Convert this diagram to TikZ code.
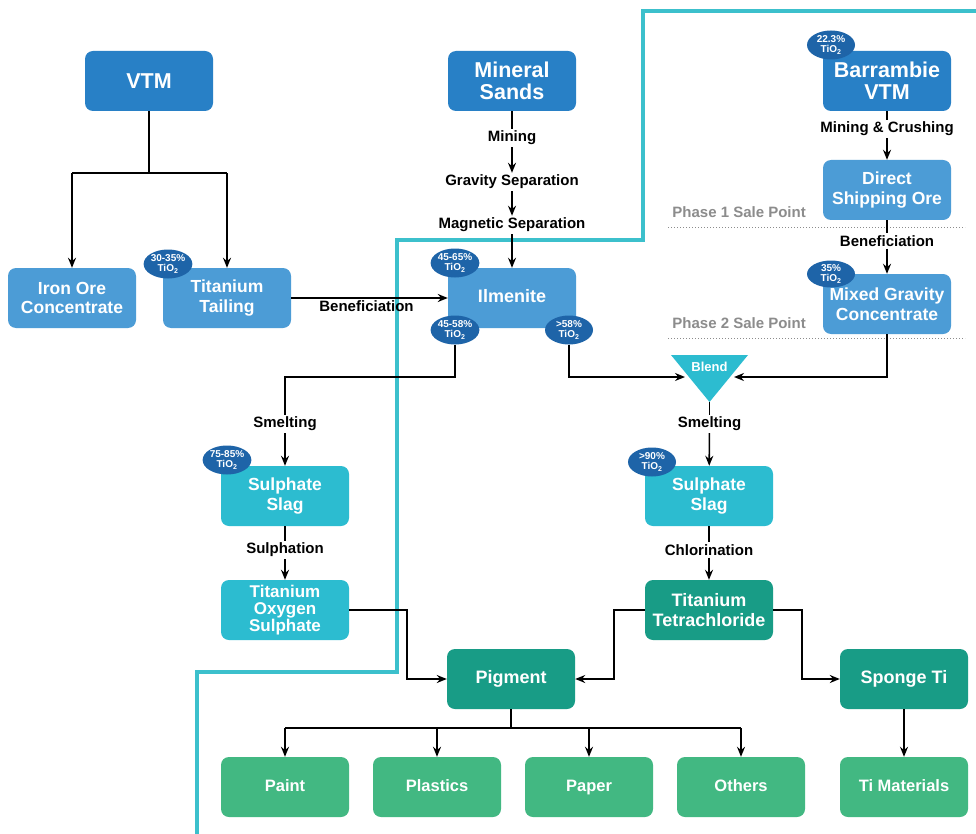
\documentclass[tikz,border=0pt]{standalone}
\usepackage{fontspec}
\setmainfont{Liberation Sans}
\usetikzlibrary{arrows.meta,calc,shapes.geometric}
\definecolor{dblue}{RGB}{40,128,198}
\definecolor{mblue}{RGB}{76,156,214}
\definecolor{navy}{RGB}{30,100,168}
\definecolor{cyanb}{RGB}{44,188,208}
\definecolor{tealb}{RGB}{24,156,134}
\definecolor{greenb}{RGB}{66,184,130}
\definecolor{border}{RGB}{60,192,204}
\definecolor{phase}{RGB}{140,140,140}
\tikzset{
  box/.style={rounded corners=8pt, minimum width=128pt, minimum height=60pt, text=white, align=center, inner sep=1pt, font=\bfseries\fontsize{17.5}{19.5}\selectfont},
  bigbox/.style={box, fill=dblue, font=\bfseries\fontsize{21.5}{22}\selectfont},
  midbox/.style={box, fill=mblue},
  cyanbox/.style={box, fill=cyanb},
  tealbox/.style={box, fill=tealb, font=\bfseries\fontsize{18}{19.5}\selectfont},
  onerow/.style={text height=13pt, text depth=4pt},
  greenbox/.style={box, onerow, fill=greenb, font=\bfseries\fontsize{16.5}{18}\selectfont},
  badge/.style={ellipse, fill=navy, text=white, minimum width=48pt, minimum height=29pt, inner sep=0pt, align=center, font=\bfseries\fontsize{10}{10.5}\selectfont},
  lbl/.style={font=\bfseries\fontsize{15}{16}\selectfont, inner sep=2pt},
  phaselbl/.style={font=\bfseries\fontsize{15}{16}\selectfont, text=phase, anchor=east, inner sep=0pt},
  ln/.style={line width=1.6pt, black},
  arr/.style={ln, -{Stealth[length=10pt,width=8pt]}},
}
\begin{document}
\begin{tikzpicture}[x=1pt,y=-1pt]
\useasboundingbox (0,0) rectangle (976,834);
\fill[white] (0,0) rectangle (976,834);
% border
\draw[border, line width=4pt] (976,11) -- (643,11) -- (643,240) -- (397,240) -- (397,672) -- (197,672) -- (197,834);
% dotted sale lines
\draw[phase, line width=1pt, dotted] (668,228) -- (965,228);
\draw[phase, line width=1pt, dotted] (668,338) -- (965,338);

% top row
\node[bigbox] (vtm) at (149,81) {VTM};
\node[bigbox] (ms) at (512,81) {Mineral\\Sands};
\node[bigbox] (bv) at (887,81) {Barrambie\\VTM};
\node[badge] (b223) at (831,45) {22.3\%\\TiO\textsubscript{2}};

% Mineral sands chain
\node[lbl] (mining) at (512,138) {Mining};
\node[lbl] (grav) at (512,182) {Gravity Separation};
\node[lbl] (mag) at (512,225) {Magnetic Separation};

% Barrambie chain
\node[lbl] (mc) at (887,129) {Mining \& Crushing};
\node[midbox] (dso) at (887,190) {Direct\\Shipping Ore};
\node[phaselbl] (p1) at (806,212) {Phase 1 Sale Point};
\node[lbl] (ben2) at (887,241) {Beneficiation};
\node[midbox] (mgc) at (887,304) {Mixed Gravity\\Concentrate};
\node[badge, minimum height=27pt] (b35) at (831,274) {35\%\\TiO\textsubscript{2}};
\node[phaselbl] (p2) at (806,323) {Phase 2 Sale Point};

% second row
\node[midbox] (iron) at (72,298) {Iron Ore\\Concentrate};
\node[midbox] (tail) at (227,298) {Titanium\\Tailing};
\node[badge] (b3035) at (168,264) {30-35\%\\TiO\textsubscript{2}};
\node[midbox, onerow, font=\bfseries\fontsize{18}{19.5}\selectfont] (ilm) at (512,298) {Ilmenite};
\node[badge] (b4565) at (455,263) {45-65\%\\TiO\textsubscript{2}};
\node[badge] (b4558) at (455,330) {45-58\%\\TiO\textsubscript{2}};
\node[badge] (b58) at (569,330) {>58\%\\TiO\textsubscript{2}};

% blend
\draw[fill=cyanb, draw=none] (671,355) -- (748,355) -- (709.5,402) -- cycle;
\node[text=white, font=\bfseries\fontsize{13}{14}\selectfont] (blend) at (709.5,367) {Blend};
\coordinate (blendL) at (685,377);
\coordinate (blendR) at (734,377);
\coordinate (blendB) at (709.5,402);

% left slag chain
\node[lbl] (smL) at (285,424) {Smelting};
\node[cyanbox] (ss1) at (285,496) {Sulphate\\Slag};
\node[badge] (b7585) at (227,460) {75-85\%\\TiO\textsubscript{2}};
\node[lbl] (sulph) at (285,550) {Sulphation};
\node[cyanbox, font=\bfseries\fontsize{17}{17}\selectfont] (tos) at (285,610) {Titanium\\Oxygen\\Sulphate};

% right slag chain
\node[lbl] (smR) at (709.5,424) {Smelting};
\node[cyanbox] (ss2) at (709,496) {Sulphate\\Slag};
\node[badge] (b90) at (652,462) {>90\%\\TiO\textsubscript{2}};
\node[lbl] (chl) at (709,550) {Chlorination};
\node[tealbox] (tt) at (709,610) {Titanium\\Tetrachloride};

% products
\node[tealbox, onerow] (pig) at (511,679) {Pigment};
\node[tealbox, onerow] (sponge) at (904,679) {Sponge Ti};
\node[greenbox] (paint) at (285,787) {Paint};
\node[greenbox] (plast) at (437,787) {Plastics};
\node[greenbox] (paper) at (589,787) {Paper};
\node[greenbox] (others) at (741,787) {Others};
\node[greenbox] (tim) at (904,787) {Ti Materials};

% connectors
\draw[ln] (vtm.south) -- ++(0,62) coordinate (vj);
\draw[ln] (iron.north |- vj) -- (tail.north |- vj);
\draw[arr] (iron.north |- vj) -- (iron.north);
\draw[arr] (tail.north |- vj) -- (tail.north);

\draw[ln] (ms.south) -- (mining);
\draw[arr] (mining) -- (grav);
\draw[arr] (grav) -- (mag);
\draw[arr] (mag) -- (ilm);

\draw[arr] (tail.east) -- node[lbl, below, xshift=-3pt] {Beneficiation} (ilm.west);

\draw[ln] (bv.south) -- (mc);
\draw[arr] (mc) -- (dso);
\draw[ln] (dso.south) -- (ben2);
\draw[arr] (ben2) -- (mgc);

\draw[ln] (b4558.south) -- (b4558.south |- blendL) -| (smL.north);
\draw[arr] (smL) -- (ss1);
\draw[ln] (ss1) -- (sulph);
\draw[arr] (sulph) -- (tos);

\draw[arr] (b58.south) |- (blendL);
\draw[arr] (mgc.south) |- (blendR);
\draw[ln] (blendB) -- (smR);
\draw[arr] (smR) -- (ss2);
\draw[ln] (ss2) -- (chl);
\draw[arr] (chl) -- (tt);

\draw[arr] (tos.east) -- ++(58,0) |- (pig.west);
\draw[arr] (tt.west) -- ++(-31,0) |- (pig.east);
\draw[arr] (tt.east) -- ++(29,0) |- (sponge.west);

\draw[ln] (pig.south) -- ++(0,19) coordinate (pj);
\draw[ln] (paint.north |- pj) -- (others.north |- pj);
\draw[arr] (paint.north |- pj) -- (paint.north);
\draw[arr] (plast.north |- pj) -- (plast.north);
\draw[arr] (paper.north |- pj) -- (paper.north);
\draw[arr] (others.north |- pj) -- (others.north);
\draw[arr] (sponge) -- (tim);
\end{tikzpicture}
\end{document}
